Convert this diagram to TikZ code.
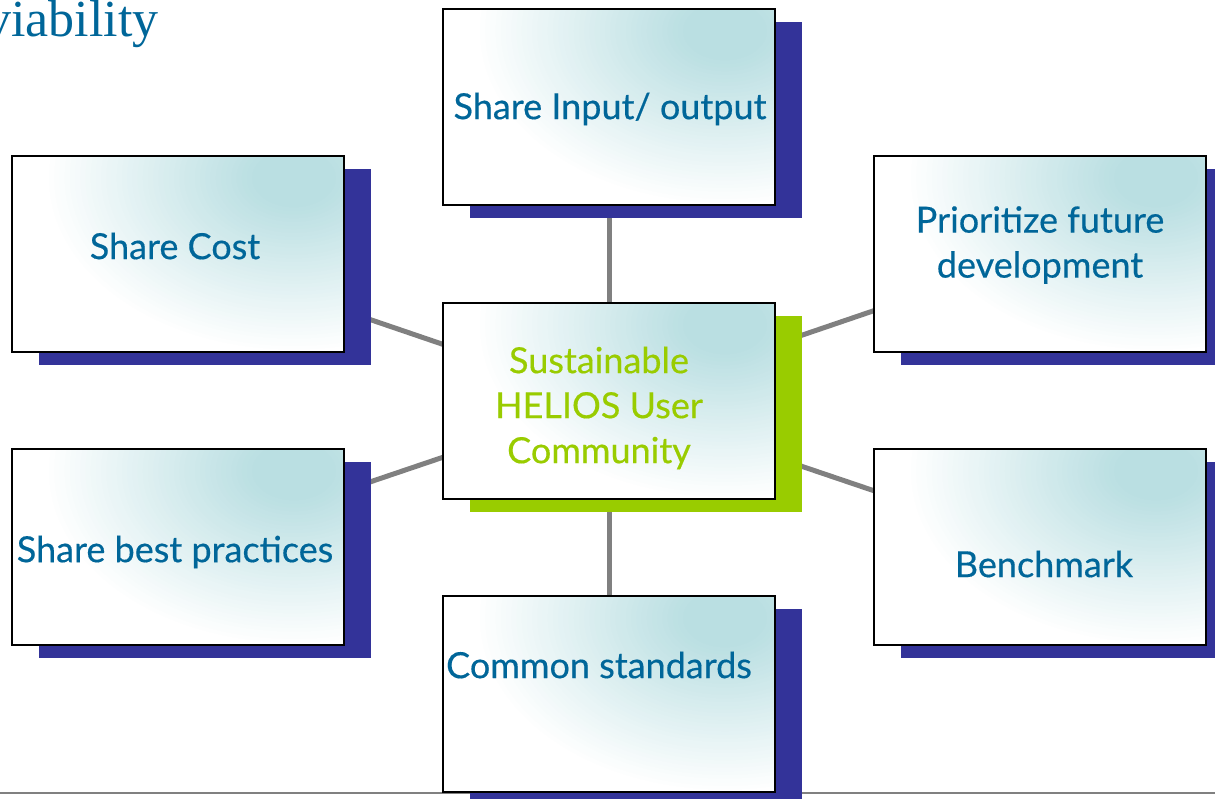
\documentclass[tikz,border=0pt]{standalone}
\usepackage{fontspec}
\setsansfont{Lato}[FakeBold=0.4]
\setmainfont{Liberation Serif}
\usetikzlibrary{shadows}
\definecolor{navy}{RGB}{51,51,153}
\definecolor{limeg}{RGB}{153,204,0}
\definecolor{textblue}{RGB}{0,102,153}
\definecolor{glow}{RGB}{186,223,226}
\definecolor{conngray}{RGB}{128,128,128}
\pgfdeclarelayer{background}
\pgfsetlayers{background,main}
\tikzset{
  box/.style={draw=black, line width=1.4pt, fill=white, minimum width=332pt, minimum height=196pt, inner sep=0pt,
    path picture={
      \coordinate (gc) at ([shift={(-50pt,-22pt)}]path picture bounding box.north east);
      \foreach \k [evaluate=\k as \p using \k*2.5, evaluate=\k as \f using 1-\k/48] in {0,...,40}
        {\fill[glow!\p!white] (gc) ellipse [x radius=\f*250pt, y radius=\f*175pt];}
    },
    general shadow={fill=navy, shadow xshift=27pt, shadow yshift=-13pt}},
  hubbox/.style={box, general shadow={fill=limeg, shadow xshift=27pt, shadow yshift=-13pt}},
  txt/.style={text=textblue, font=\sffamily\fontsize{36}{45}\selectfont, align=center, inner sep=0pt},
  hubtxt/.style={txt, text=limeg},
  conn/.style={draw=conngray, line width=5pt},
  rule/.style={draw=conngray, line width=1.5pt}
}
\begin{document}
\begin{tikzpicture}[x=1pt,y=-1pt]
\useasboundingbox (0,0) rectangle (1215,798);
\node[anchor=base west, text=textblue, font=\fontsize{52}{52}\selectfont, inner sep=0pt] (title) at (-15,36) {viability};
\node[box] (top) at (609,107) {};
\node[box] (cost) at (178,254) {};
\node[box] (prio) at (1040,254) {};
\node[hubbox] (hub) at (609,401) {};
\node[box] (best) at (178,547) {};
\node[box] (bench) at (1040,547) {};
\node[box] (common) at (609,694) {};
\node[txt] (top-t) at (610,109) {Share Input/ output};
\node[txt] (cost-t) at (175,246) {Share Cost};
\node[txt] (prio-t) at (1040,245) {Prioritize future\\development};
\node[hubtxt] (hub-t) at (599,408) {Sustainable\\HELIOS User\\Community};
\node[txt] (best-t) at (175,552) {Share best practices};
\node[txt] (bench-t) at (1044,564) {Benchmark};
\node[txt] (common-t) at (599,665) {Common standards};
\begin{pgfonlayer}{background}
\coordinate (ruleL) at (0,793);
\coordinate (ruleR) at (1215,793);
\draw[rule] (ruleL) -- (ruleR);
\draw[conn] (top.center) -- (hub.center);
\draw[conn] (cost.center) -- (hub.center);
\draw[conn] (prio.center) -- (hub.center);
\draw[conn] (best.center) -- (hub.center);
\draw[conn] (bench.center) -- (hub.center);
\draw[conn] (common.center) -- (hub.center);
\end{pgfonlayer}
\end{tikzpicture}
\end{document}
